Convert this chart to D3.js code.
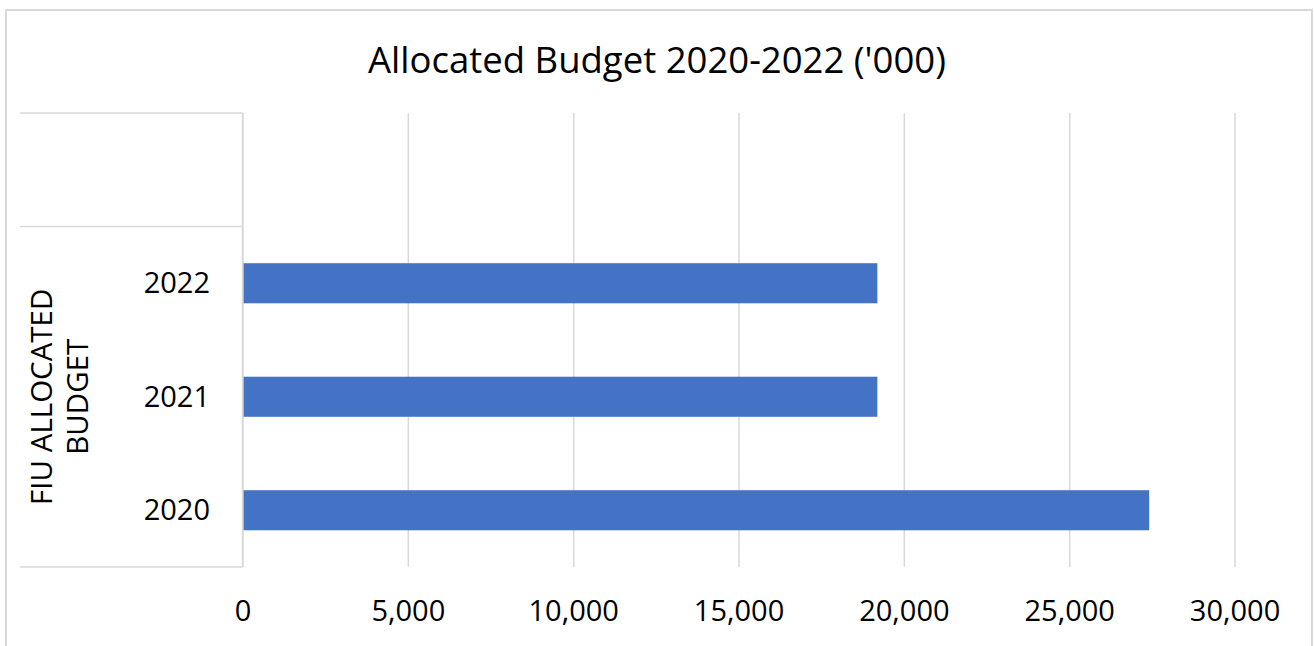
<!DOCTYPE html>
<html>
<head>
<meta charset="utf-8">
<script src="https://cdn.jsdelivr.net/npm/d3@7"></script>
<style>
  body { margin: 0; background: #fff; }
  svg { display: block; font-family: "Open Sans", "Noto Sans", sans-serif; }
</style>
</head>
<body>
<svg width="1314" height="646"></svg>
<script>
var categories = ["", "2022", "2021", "2020"];
var values = [null, 19200, 19200, 27420];
var groupLabel = ["FIU ALLOCATED", "BUDGET"];
var groupMembers = ["2022", "2021", "2020"];
var xTicks = [0, 5000, 10000, 15000, 20000, 25000, 30000];
var title = "Allocated Budget 2020-2022 ('000)";

var svg = d3.select("svg"),
    width = +svg.attr("width"),
    height = +svg.attr("height");

var margin = {top: 113, left: 242.5, right: 79.5, bottom: 79};
var plotW = width - margin.left - margin.right,
    plotH = height - margin.top - margin.bottom;

// chart border
svg.append("rect")
    .attr("x", 6).attr("y", 10)
    .attr("width", 1306).attr("height", 660)
    .attr("fill", "none")
    .attr("stroke", "#d9d9d9")
    .attr("stroke-width", 2);

svg.append("text")
    .attr("x", 657).attr("y", 73)
    .attr("text-anchor", "middle")
    .attr("font-size", 36.5)
    .attr("fill", "#000")
    .text(title);

var x = d3.scaleLinear()
    .domain([0, 30000])
    .range([0, plotW]);

var y = d3.scaleBand()
    .domain(categories)
    .range([0, plotH])
    .paddingInner(0.647)
    .paddingOuter(0.3235);

var g = svg.append("g")
    .attr("transform", "translate(" + margin.left + "," + margin.top + ")");

// gridlines
var grid = g.append("g")
    .call(d3.axisBottom(x).tickValues(xTicks).tickSize(plotH).tickFormat(""));
grid.select(".domain").remove();
grid.selectAll("line").attr("stroke", "#d9d9d9").attr("stroke-width", 1.5);

// bars
g.selectAll("rect.bar")
    .data(categories.map(function(c, i) { return {cat: c, value: values[i]}; })
      .filter(function(d) { return d.value != null; }))
  .enter().append("rect")
    .attr("class", "bar")
    .attr("x", x(0) + 1)
    .attr("y", function(d) { return y(d.cat); })
    .attr("width", function(d) { return x(d.value) - x(0) - 1; })
    .attr("height", y.bandwidth())
    .attr("fill", "#4472c4");

// x axis labels
var xAxis = g.append("g")
    .attr("transform", "translate(0," + plotH + ")")
    .call(d3.axisBottom(x).tickValues(xTicks).tickSize(0).tickPadding(33).tickFormat(d3.format(",")));
xAxis.select(".domain").remove();
xAxis.selectAll("text")
    .attr("font-size", 29)
    .attr("font-family", "'Open Sans', sans-serif")
    .attr("fill", "#000");

// category axis (multi-level)
var step = y.step();
var catAxis = svg.append("g");
var axisLeft = 20;
catAxis.append("line")
    .attr("x1", margin.left).attr("x2", margin.left)
    .attr("y1", margin.top).attr("y2", margin.top + plotH)
    .attr("stroke", "#d9d9d9").attr("stroke-width", 1.5);

var groupTop = margin.top + categories.indexOf(groupMembers[0]) * step;
[margin.top, groupTop, margin.top + plotH].forEach(function(yy) {
  catAxis.append("line")
      .attr("x1", axisLeft).attr("x2", margin.left)
      .attr("y1", yy).attr("y2", yy)
      .attr("stroke", "#d9d9d9").attr("stroke-width", 1.5);
});

catAxis.selectAll("text.cat")
    .data(categories)
  .enter().append("text")
    .attr("class", "cat")
    .attr("x", 210)
    .attr("y", function(d) { return margin.top + y(d) + y.bandwidth() / 2; })
    .attr("dy", "0.35em")
    .attr("text-anchor", "end")
    .attr("font-size", 29)
    .attr("fill", "#000")
    .text(function(d) { return d; });

var groupMid = (groupTop + margin.top + plotH) / 2;
var gl = catAxis.append("text")
    .attr("transform", "translate(61," + groupMid + ") rotate(-90)")
    .attr("text-anchor", "middle")
    .attr("font-size", 29.5)
    .attr("fill", "#000");
gl.selectAll("tspan")
    .data(groupLabel)
  .enter().append("tspan")
    .attr("x", 0)
    .attr("dy", function(d, i) { return i === 0 ? "-0.3em" : "1.22em"; })
    .text(function(d) { return d; });
</script>
</body>
</html>
